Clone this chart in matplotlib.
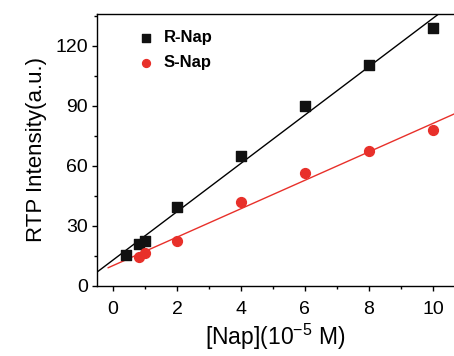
import numpy as np
import matplotlib
matplotlib.use("Agg")
import matplotlib.pyplot as plt
from matplotlib.ticker import MultipleLocator

plt.rcParams['font.family'] = ['Liberation Sans', 'DejaVu Sans']
plt.rcParams['mathtext.fontset'] = 'custom'
plt.rcParams['mathtext.rm'] = 'Liberation Sans'

r_x = [0.4, 0.8, 1.0, 2, 4, 6, 8, 10]
r_y = [15.5, 21, 22.5, 39.5, 65, 90, 110.5, 129]
s_x = [0.8, 1.0, 2, 4, 6, 8, 10]
s_y = [14.5, 16.5, 22.5, 42, 56.5, 67.5, 78]
xticks = [0, 2, 4, 6, 8, 10]
yticks = [0, 30, 60, 90, 120]

fig = plt.figure(figsize=(4.54, 3.56), dpi=100)
ax = fig.add_axes([97/454, 70/356, 357/454, 272/356])

rk, rb = np.polyfit(r_x, r_y, 1)
sk, sb = np.polyfit(s_x, s_y, 1)
lx = np.array([-0.5, 11.0])
ax.plot(lx, rk*lx + rb, color='black', lw=1.0, zorder=2)
lx2 = np.array([-0.15, 11.0])
ax.plot(lx2, sk*lx2 + sb, color='#e8302a', lw=1.0, zorder=2)

ax.scatter(r_x, r_y, marker='s', s=42, color='#111111', zorder=3, label='R-Nap')
ax.scatter(s_x, s_y, marker='o', s=50, color='#e8302a', zorder=3, label='S-Nap')

ax.set_xlim(-0.5, 10.66)
ax.set_ylim(0, 136)
ax.set_xticks(xticks)
ax.set_yticks(yticks)
ax.xaxis.set_minor_locator(MultipleLocator(1))
ax.yaxis.set_minor_locator(MultipleLocator(15))
ax.tick_params(which='major', direction='out', length=3.5, width=1, labelsize=14)
ax.tick_params(which='minor', direction='out', length=2.5, width=1)
ax.tick_params(axis='x', which='major', pad=7)
ax.tick_params(axis='y', which='major', pad=3)
ax.tick_params(axis='x', which='both', top=False)
ax.spines['right'].set_visible(False)
for s in ['left', 'bottom', 'top']:
    ax.spines[s].set_linewidth(1.0)

ax.set_xlabel('[Nap](10$^{\\mathrm{-5}}$ M)', fontsize=16.5, labelpad=3)
ax.set_ylabel('RTP Intensity(a.u.)', fontsize=16, labelpad=6)

leg = ax.legend(loc='upper left', bbox_to_anchor=(0.095, 0.965), frameon=False,
                prop={'weight': 'bold', 'size': 12}, handletextpad=0.55,
                labelspacing=0.6, handlelength=1.0, markerscale=0.8,
                borderaxespad=0)

fig.savefig('out.png', dpi=100)
